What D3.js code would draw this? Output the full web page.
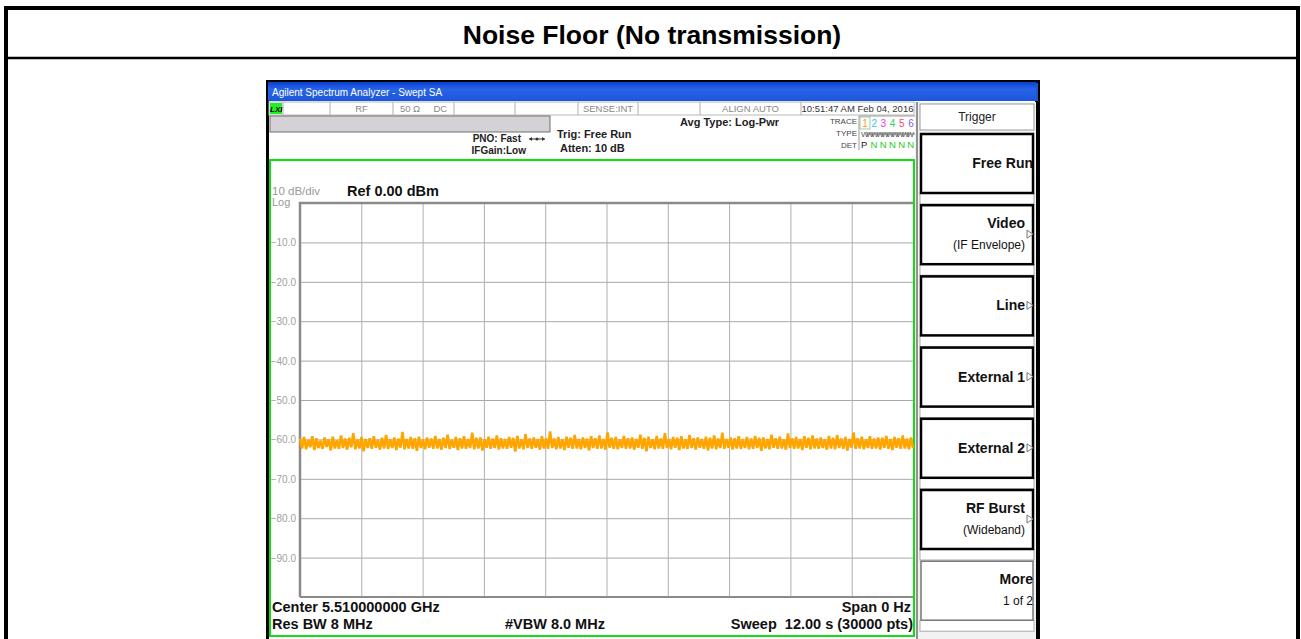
<!DOCTYPE html>
<html>
<head>
<meta charset="utf-8">
<script src="https://cdn.jsdelivr.net/npm/d3@7"></script>
<style>
  html, body { margin: 0; padding: 0; background: #fff; }
  svg { display: block; font-family: "Liberation Sans", Arial, sans-serif; }
</style>
</head>
<body>
<div id="chart"></div>
<script>
// y axis tick labels (dBm), 10 dB/div from ref 0
var yTicks = [-10, -20, -30, -40, -50, -60, -70, -80, -90];
// vertical graticule, 10 divisions over the 12 s sweep
var xTicks = [1.2, 2.4, 3.6, 4.8, 6.0, 7.2, 8.4, 9.6, 10.8];
// trace values (dBm), 12 s sweep, zero span
var traceDbm = [
  -59.8,-62.3,-59.4,-62.5,-60.1,-62.0,-59.2,-62.7,-59.7,-62.2,-60.3,-62.4,-59.5,-61.9,-60.0,-62.8,-59.3,-62.3,-60.2,-62.4,
  -59.0,-62.2,-59.8,-62.6,-59.6,-62.0,-58.4,-62.5,-60.0,-62.3,-59.4,-63.0,-59.9,-62.2,-59.7,-62.4,-59.2,-62.1,-60.1,-62.6,
  -59.6,-62.3,-58.9,-62.4,-60.0,-62.2,-59.5,-62.7,-59.8,-62.1,-58.1,-62.5,-59.9,-62.3,-59.4,-62.4,-59.7,-62.9,-59.3,-62.2,
  -60.0,-62.5,-59.5,-62.1,-59.8,-62.4,-59.1,-62.3,-59.9,-62.6,-59.6,-62.2,-58.8,-62.4,-60.1,-62.1,-59.4,-62.7,-59.7,-62.3,
  -59.2,-62.4,-59.9,-62.2,-58.3,-62.5,-59.6,-62.3,-59.5,-62.8,-60.0,-62.1,-59.3,-62.4,-59.8,-62.2,-59.0,-62.6,-59.7,-62.3,
  -59.9,-62.4,-59.4,-62.1,-59.6,-63.1,-59.1,-62.3,-60.0,-62.5,-58.7,-62.2,-59.8,-62.4,-59.5,-62.1,-59.9,-62.6,-59.2,-62.3,
  -59.7,-62.4,-58.0,-62.2,-59.8,-62.5,-59.4,-62.3,-60.0,-62.7,-59.3,-62.1,-59.6,-62.4,-58.9,-62.3,-59.9,-62.5,-59.5,-62.2,
  -59.8,-62.8,-59.2,-62.2,-59.7,-62.4,-59.0,-62.3,-59.9,-62.6,-58.2,-62.1,-59.6,-62.4,-59.4,-62.5,-60.0,-62.2,-59.1,-62.4,
  -59.7,-62.3,-59.5,-62.6,-59.9,-62.1,-58.8,-62.4,-59.6,-63.0,-59.3,-62.2,-60.0,-62.5,-59.1,-62.3,-59.8,-62.4,-58.4,-62.2,
  -59.9,-62.5,-59.4,-62.1,-59.6,-62.7,-59.2,-62.3,-60.0,-62.4,-58.9,-62.2,-59.7,-62.6,-59.5,-62.1,-59.9,-62.4,-59.3,-62.8,
  -59.6,-62.3,-59.0,-62.5,-59.8,-62.2,-58.3,-62.4,-59.9,-62.1,-59.5,-62.6,-59.7,-62.3,-59.2,-62.4,-60.0,-62.2,-59.4,-62.5,
  -59.8,-62.4,-59.1,-62.2,-59.6,-62.9,-59.5,-62.3,-59.9,-62.5,-58.8,-62.1,-59.7,-62.4,-59.3,-62.3,-60.0,-62.6,-58.5,-62.2,
  -59.7,-62.4,-59.4,-62.3,-59.9,-62.7,-59.2,-62.1,-59.6,-62.5,-59.0,-62.3,-59.8,-62.4,-59.5,-62.2,-60.0,-62.6,-59.1,-62.3,
  -59.6,-62.5,-58.9,-62.2,-59.8,-62.4,-59.4,-62.8,-59.9,-62.1,-58.2,-62.4,-59.7,-62.3,-59.3,-62.5,-60.0,-62.2,-59.2,-62.4,
  -59.8,-62.3,-59.5,-62.6,-59.6,-62.2,-59.1,-62.4,-59.9,-62.7,-59.4,-62.1,-59.7,-62.4,-59.0,-62.3,-59.8,-62.5,-59.5,-62.2
];
var sweepSeconds = 12;

var softkeys = [
  { main: "Free Run", sub: null, arrow: false },
  { main: "Video", sub: "(IF Envelope)", arrow: true },
  { main: "Line", sub: null, arrow: true },
  { main: "External 1", sub: null, arrow: true },
  { main: "External 2", sub: null, arrow: true },
  { main: "RF Burst", sub: "(Wideband)", arrow: true },
  { main: "More", sub: "1 of 2", arrow: false, grey: true }
];
var statusCells = [
  { x0: 283, x1: 330, text: "" },
  { x0: 330, x1: 393, text: "RF" },
  { x0: 393, x1: 454, text: "50 \u03A9     DC" },
  { x0: 454, x1: 515, text: "" },
  { x0: 515, x1: 578, text: "" },
  { x0: 578, x1: 638, text: "SENSE:INT" },
  { x0: 638, x1: 700, text: "" },
  { x0: 700, x1: 801, text: "ALIGN AUTO" },
  { x0: 801, x1: 914, text: "10:51:47 AM Feb 04, 2016" }
];
var traceNums = ["1", "2", "3", "4", "5", "6"];
var traceColors = ["#f0a030", "#30c8f0", "#e040e0", "#30d060", "#f04878", "#8060f0"];
var detModes = ["N", "N", "N", "N", "N"];

var W = 1301, H = 639;
var svg = d3.select("#chart").append("svg")
  .attr("width", W).attr("height", H);

// ---- outer table ----
svg.append("rect").attr("x", 6).attr("y", 8).attr("width", 1292).attr("height", 700)
  .attr("fill", "#fff").attr("stroke", "#000").attr("stroke-width", 4);
svg.append("line").attr("x1", 6).attr("x2", 1298).attr("y1", 58).attr("y2", 58)
  .attr("stroke", "#000").attr("stroke-width", 2.5);
svg.append("text").attr("x", 652).attr("y", 44)
  .attr("text-anchor", "middle").style("font-size", "26.5px").style("font-weight", "bold")
  .text("Noise Floor (No transmission)");

// ---- instrument window ----
var inst = svg.append("g");
inst.append("rect").attr("x", 266).attr("y", 80).attr("width", 774).attr("height", 570).attr("fill", "#000");
inst.append("rect").attr("x", 269).attr("y", 83).attr("width", 766).attr("height", 560).attr("fill", "#fff");

var grad = svg.append("defs").append("linearGradient").attr("id", "tb")
  .attr("x1", 0).attr("y1", 0).attr("x2", 0).attr("y2", 1);
grad.append("stop").attr("offset", "0%").attr("stop-color", "#0a3fd0");
grad.append("stop").attr("offset", "40%").attr("stop-color", "#2864e8");
grad.append("stop").attr("offset", "100%").attr("stop-color", "#1c55d8");
inst.append("rect").attr("x", 268).attr("y", 82).attr("width", 770).attr("height", 19).attr("fill", "url(#tb)");
inst.append("text").attr("x", 272).attr("y", 96).attr("fill", "#fff")
  .style("font-size", "10px").text("Agilent Spectrum Analyzer - Swept SA");

// status row
inst.append("rect").attr("x", 269).attr("y", 102).attr("width", 645).attr("height", 13)
  .attr("fill", "#fff").attr("stroke", "#b8b8b8").attr("stroke-width", 1);
inst.append("rect").attr("x", 270).attr("y", 103).attr("width", 12).attr("height", 11).attr("fill", "#22ee22");
inst.append("text").attr("x", 270).attr("y", 112).style("font-size", "8px").style("font-weight", "bold")
  .style("font-style", "italic").text("LXI");
statusCells.forEach(function (c) {
  inst.append("line").attr("x1", c.x0).attr("x2", c.x0).attr("y1", 102).attr("y2", 115)
    .attr("stroke", "#b0b0b0");
  inst.append("text").attr("x", (c.x0 + c.x1) / 2).attr("y", 112)
    .attr("text-anchor", "middle").attr("fill", c.x0 === 801 ? "#333" : "#888")
    .style("font-size", "9.5px").attr("xml:space", "preserve").text(c.text);
});
// grey status bar
inst.append("rect").attr("x", 270).attr("y", 116).attr("width", 280).attr("height", 16)
  .attr("fill", "#d4d2d6").attr("stroke", "#707070");

inst.append("text").attr("x", 521).attr("y", 142).attr("text-anchor", "end")
  .style("font-size", "10px").style("font-weight", "bold").attr("fill", "#222").text("PNO: Fast");
inst.append("text").attr("x", 526).attr("y", 154).attr("text-anchor", "end")
  .style("font-size", "10px").style("font-weight", "bold").attr("fill", "#222").text("IFGain:Low");
inst.append("line").attr("x1", 529).attr("x2", 545).attr("y1", 139).attr("y2", 139).attr("stroke", "#333");
inst.append("path").attr("d", "M529,139 l3,-2 v4 z M545,139 l-3,-2 v4 z").attr("fill", "#333");
inst.append("circle").attr("cx", 537).attr("cy", 139).attr("r", 1.5).attr("fill", "#333");
inst.append("text").attr("x", 557).attr("y", 138)
  .style("font-size", "11px").style("font-weight", "bold").attr("fill", "#222").text("Trig: Free Run");
inst.append("text").attr("x", 560).attr("y", 152)
  .style("font-size", "11px").style("font-weight", "bold").attr("fill", "#222").text("Atten: 10 dB");
inst.append("text").attr("x", 680).attr("y", 126)
  .style("font-size", "11px").style("font-weight", "bold").attr("fill", "#222").text("Avg Type: Log-Pwr");

// trace / type / det block
[["TRACE", 124], ["TYPE", 136], ["DET", 148]].forEach(function (r) {
  inst.append("text").attr("x", 857).attr("y", r[1]).attr("text-anchor", "end")
    .style("font-size", "8px").attr("fill", "#444").text(r[0]);
});
inst.append("path").attr("d", "M859,116 V150 M859,116 H915").attr("stroke", "#999").attr("fill", "none");
inst.append("rect").attr("x", 860).attr("y", 117).attr("width", 10).attr("height", 12)
  .attr("fill", "none").attr("stroke", "#a0c8a0");
traceNums.forEach(function (n, i) {
  inst.append("text").attr("x", 865 + i * 9.2).attr("y", 127).attr("text-anchor", "middle")
    .style("font-size", "10px").attr("fill", traceColors[i]).text(n);
});
inst.append("text").attr("x", 861).attr("y", 137).style("font-size", "8px").attr("fill", "#555")
  .attr("textLength", 53).text("WWWWWWWWWW");
inst.append("line").attr("x1", 868).attr("x2", 915).attr("y1", 134).attr("y2", 134).attr("stroke", "#777");
inst.append("text").attr("x", 861).attr("y", 148).style("font-size", "9.5px").attr("fill", "#222").text("P");
detModes.forEach(function (n, i) {
  inst.append("text").attr("x", 874 + i * 9.2).attr("y", 148).attr("text-anchor", "middle")
    .style("font-size", "9.5px").attr("fill", "#22cc22").text(n);
});

// ---- graticule ----
var plot = { left: 300, right: 913, top: 203, bottom: 597 };
var x = d3.scaleLinear().domain([0, sweepSeconds]).range([plot.left, plot.right]);
var y = d3.scaleLinear().domain([-100, 0]).range([plot.bottom, plot.top]);

// green measurement frame
inst.append("rect").attr("x", 270).attr("y", 160).attr("width", 644).attr("height", 476)
  .attr("fill", "none").attr("stroke", "#11dd11").attr("stroke-width", 2);

inst.append("text").attr("x", 272).attr("y", 195).attr("fill", "#999")
  .style("font-size", "11.5px").text("10 dB/div");
inst.append("text").attr("x", 272).attr("y", 206).attr("fill", "#999")
  .style("font-size", "11px").text("Log");
inst.append("text").attr("x", 347).attr("y", 196).attr("fill", "#111")
  .style("font-size", "14.5px").style("font-weight", "bold").text("Ref 0.00 dBm");

var g = inst.append("g");
// horizontal grid
g.append("g")
  .attr("transform", "translate(" + plot.left + ",0)")
  .call(d3.axisLeft(y).tickValues(yTicks).tickSize(-(plot.right - plot.left)).tickFormat(""))
  .call(function (a) { a.select(".domain").remove(); })
  .selectAll("line").attr("stroke", "#a8a8a8");
// vertical grid
g.append("g")
  .attr("transform", "translate(0," + plot.bottom + ")")
  .call(d3.axisBottom(x).tickValues(xTicks).tickSize(-(plot.bottom - plot.top)).tickFormat(""))
  .call(function (a) { a.select(".domain").remove(); })
  .selectAll("line").attr("stroke", "#b0b0b0");
// tick labels
g.selectAll(".ylab").data(yTicks).enter().append("text")
  .attr("x", 296).attr("y", function (d) { return y(d) + 4; })
  .attr("text-anchor", "end").attr("fill", "#a0a0a0").style("font-size", "10px")
  .text(function (d) { return d3.format(".1f")(d); });
// frame
g.append("path")
  .attr("d", "M" + plot.left + "," + plot.bottom + " V" + plot.top + " H" + plot.right)
  .attr("fill", "none").attr("stroke", "#8a8a8a").attr("stroke-width", 2.5);
g.append("line").attr("x1", plot.left).attr("x2", plot.right).attr("y1", plot.bottom).attr("y2", plot.bottom)
  .attr("stroke", "#8a8a8a").attr("stroke-width", 2);

// trace
var line = d3.line()
  .x(function (d, i) { return x(i * sweepSeconds / (traceDbm.length - 1)); })
  .y(function (d) { return y(d); });
g.append("path").datum(traceDbm).attr("d", line)
  .attr("fill", "none").attr("stroke", "#ffa500").attr("stroke-width", 2.6)
  .attr("stroke-linejoin", "miter").attr("stroke-miterlimit", 2);

// bottom annotations
var ann = [
  { t: "Center 5.510000000 GHz", x: 272, y: 612, a: "start" },
  { t: "Res BW 8 MHz", x: 272, y: 629, a: "start" },
  { t: "#VBW 8.0 MHz", x: 505, y: 629, a: "start" },
  { t: "Span 0 Hz", x: 911, y: 612, a: "end" },
  { t: "Sweep  12.00 s (30000 pts)", x: 913, y: 629, a: "end" }
];
ann.forEach(function (d) {
  inst.append("text").attr("x", d.x).attr("y", d.y).attr("text-anchor", d.a)
    .attr("xml:space", "preserve")
    .style("font-size", "14.5px").style("font-weight", "bold").attr("fill", "#111").text(d.t);
});

// ---- softkey panel ----
inst.append("rect").attr("x", 915).attr("y", 102).attr("width", 121).attr("height", 540).attr("fill", "#f2f2f2");
inst.append("line").attr("x1", 917).attr("x2", 917).attr("y1", 102).attr("y2", 642).attr("stroke", "#333");
inst.append("rect").attr("x", 920).attr("y", 104).attr("width", 114).attr("height", 26)
  .attr("fill", "#fff").attr("stroke", "#999");
inst.append("text").attr("x", 977).attr("y", 121).attr("text-anchor", "middle")
  .style("font-size", "12px").attr("fill", "#222").text("Trigger");

softkeys.forEach(function (k, i) {
  var top = 133 + i * 71.2;
  inst.append("rect").attr("x", 920).attr("y", top + 60).attr("width", 114).attr("height", 11)
    .attr("fill", "#fff").attr("stroke", "#aaa");
  inst.append("rect").attr("x", 921).attr("y", top + 1).attr("width", 112).attr("height", 59)
    .attr("fill", "#fff").attr("stroke", k.grey ? "#777" : "#000").attr("stroke-width", k.grey ? 1.5 : 2.5);
  var right = k.arrow ? 1025 : 1033;
  var mainY = k.sub ? top + 24 : top + 35;
  inst.append("text").attr("x", right).attr("y", mainY).attr("text-anchor", "end")
    .style("font-size", "14px").style("font-weight", "bold").attr("fill", "#111").text(k.main);
  if (k.sub) {
    inst.append("text").attr("x", right).attr("y", top + 45).attr("text-anchor", "end")
      .style("font-size", "12px").attr("fill", "#111").text(k.sub);
  }
  if (k.arrow) {
    var ay = top + 30;
    inst.append("path").attr("d", "M1027," + (ay - 4) + " L1033," + ay + " L1027," + (ay + 4) + " Z")
      .attr("fill", "#fff").attr("stroke", "#777");
  }
});
inst.append("rect").attr("x", 1036).attr("y", 80).attr("width", 4).attr("height", 570).attr("fill", "#000");
inst.append("rect").attr("x", 1036).attr("y", 83).attr("width", 2).attr("height", 18).attr("fill", "#1c55d8");
</script>
</body>
</html>
